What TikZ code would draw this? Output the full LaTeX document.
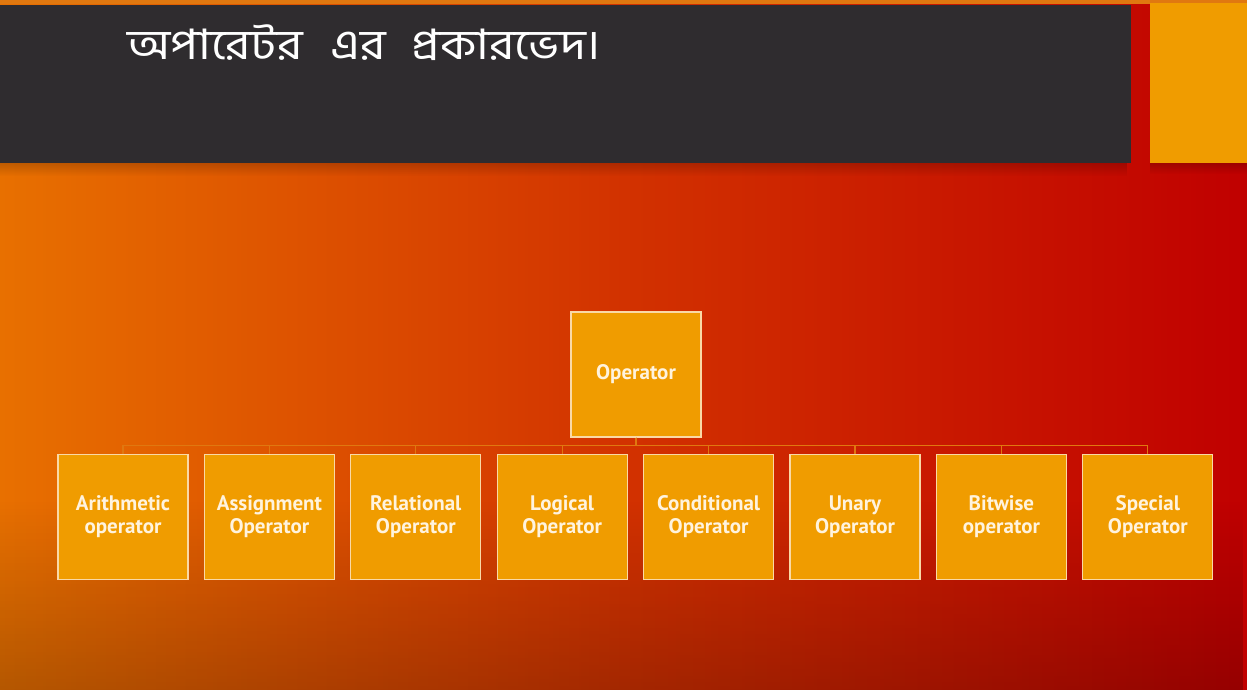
\documentclass[tikz,border=0pt]{standalone}
\usepackage{fontspec}
\setsansfont{PT Sans}
\newfontfamily\bengfont[Script=Bengali]{Hind Siliguri}
\usetikzlibrary{fadings}

\definecolor{bgleft}{HTML}{E87000}
\definecolor{bgmid}{HTML}{D23200}
\definecolor{bgright}{HTML}{C00000}
\definecolor{titlebar}{HTML}{2F2C2F}
\definecolor{boxfill}{HTML}{F09C00}
\definecolor{boxline}{HTML}{FAD9A6}
\definecolor{boxtext}{HTML}{FFF3DE}
\definecolor{busline}{HTML}{E07810}

\begin{document}
\begin{tikzpicture}[x=1pt,y=-1pt,
  opbox/.style={draw=boxline,line width=1.2pt,fill=boxfill,minimum width=130pt,
    minimum height=125pt,inner sep=0pt,align=center,text=boxtext,
    font=\sffamily\bfseries\fontsize{21}{23}\selectfont},
  bus/.style={draw=busline,line width=1.3pt}]

\useasboundingbox (0,0) rectangle (1247,690);

% background
\shade[left color=bgleft,right color=bgright,middle color=bgmid] (0,0) rectangle (1247,690);
\fill[black,opacity=0.22,path fading=north] (0,500) rectangle (1247,690);

% header
\fill[busline] (0,0) rectangle (1247,4);
\fill[black,opacity=0.18,path fading=south] (0,163) rectangle (1131,176);
\fill[titlebar] (0,5) rectangle (1131,163);
\fill[black,opacity=0.18,path fading=south] (1150,163) rectangle (1247,174);
\fill[boxfill] (1150,3) rectangle (1247,163);
\node[anchor=base west,text=white,inner sep=0pt,font=\bengfont\fontsize{42}{46}\selectfont]
  (title) at (127,60) {\scalebox{1.16}[1]{অপারেটর\hspace{24pt}এর\hspace{22pt}প্রকারভেদ।}};

% tree
\node[opbox] (op) at (636,374.5) {Operator};

\foreach \txt [count=\i] in {Arithmetic\\operator,Assignment\\Operator,Relational\\Operator,
  Logical\\Operator,Conditional\\Operator,Unary\\Operator,Bitwise\\operator,Special\\Operator}
{
  \node[opbox] (c\i) at ({123+146.4*(\i-1)},517) {\txt};
  \draw[bus] (op.south) -- ++(0,8) -| (c\i.north);
}

\end{tikzpicture}
\end{document}
